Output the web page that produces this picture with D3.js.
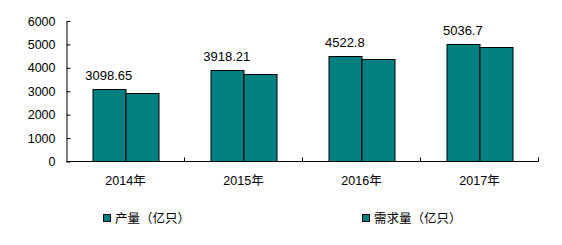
<!DOCTYPE html>
<html lang="zh">

<head>
  <meta charset="UTF-8">
  <script src="https://cdn.jsdelivr.net/npm/d3@7/dist/d3.min.js"></script>
  <title>产量与需求量</title>
  <style>
    body {
      margin: 0;
      background: #fff;
    }

    text {
      font-family: Arial, 'Liberation Sans', 'Noto Sans CJK SC', sans-serif;
      font-size: 12px;
      fill: #000;
    }
  </style>
</head>

<body>
  <svg id="chart" width="562" height="245"></svg>
  <script>
    const years = ["2014年", "2015年", "2016年", "2017年"];
    const production = [3098.65, 3918.21, 4522.8, 5036.7];
    const demand = [2920, 3720, 4360, 4875];
    const seriesNames = ["产量（亿只）", "需求量（亿只）"];
    const yTicks = [0, 1000, 2000, 3000, 4000, 5000, 6000];

    const svg = d3.select("#chart");
    const plotLeft = 66.5, plotRight = 538.5, plotTop = 21, plotBottom = 161.5;

    const x = d3.scaleBand().domain(years).range([plotLeft, plotRight]);
    const x1 = d3.scaleBand().domain([0, 1])
      .range([0, x.bandwidth()]).paddingOuter(0.77);
    const y = d3.scaleLinear().domain([0, 6000]).range([plotBottom, plotTop]);

    const rows = years.map((yr, i) => ({ year: yr, values: [production[i], demand[i]] }));

    // bars
    const groups = svg.selectAll("g.year").data(rows).enter().append("g")
      .attr("class", "year")
      .attr("transform", d => `translate(${x(d.year)},0)`);

    groups.selectAll("rect").data(d => d.values).enter().append("rect")
      .attr("x", (d, i) => Math.round(x1(i)) + 0.5)
      .attr("width", Math.round(x1.bandwidth()))
      .attr("y", d => Math.round(y(d)) + 0.5)
      .attr("height", d => plotBottom - Math.round(y(d)) - 0.5)
      .attr("fill", "#008080")
      .attr("stroke", "#000")
      .attr("stroke-width", 1);

    // value labels above the first bar
    groups.append("text")
      .attr("x", x1(0) + x1.bandwidth() / 2)
      .attr("y", d => y(d.values[0]) - 9)
      .attr("text-anchor", "middle")
      .style("font-size", "13px")
      .text(d => d.values[0]);

    // y axis
    svg.append("g")
      .attr("transform", `translate(${plotLeft},0)`)
      .call(d3.axisLeft(y).tickValues(yTicks).tickFormat(d3.format("d"))
        .tickSize(-4).tickSizeOuter(0).tickPadding(11))
      .call(g => g.selectAll("path, line").attr("stroke", "#000"))
      .call(g => g.selectAll("text").attr("font-family", null).attr("font-size", null)
        .style("font-size", "12.5px").attr("fill", "#000"));

    // x axis: line, ticks at category boundaries, labels in the middle
    svg.append("line")
      .attr("x1", plotLeft).attr("x2", plotRight)
      .attr("y1", plotBottom).attr("y2", plotBottom)
      .attr("stroke", "#000");

    svg.selectAll("line.xtick").data(years.slice(1).map(d => x(d)).concat([plotRight]))
      .enter().append("line").attr("class", "xtick")
      .attr("x1", d => Math.floor(d) + 0.5).attr("x2", d => Math.floor(d) + 0.5)
      .attr("y1", plotBottom).attr("y2", plotBottom - 4)
      .attr("stroke", "#000");

    svg.selectAll("text.xlab").data(years).enter().append("text")
      .attr("class", "xlab")
      .attr("x", d => x(d) + x.bandwidth() / 2)
      .attr("y", 185)
      .attr("text-anchor", "middle")
      .style("font-size", "12.5px")
      .text(d => d);

    // legend
    const legendX = d3.scalePoint().domain(seriesNames).range([103.5, 362.5]);
    const legend = svg.selectAll("g.legend").data(seriesNames).enter().append("g")
      .attr("class", "legend")
      .attr("transform", d => `translate(${legendX(d)},214.5)`);
    legend.append("rect")
      .attr("width", 7).attr("height", 7)
      .attr("fill", "#008080").attr("stroke", "#000");
    legend.append("text")
      .attr("x", 11.5).attr("y", 8.5)
      .style("font-size", "12.5px")
      .text(d => d);
  </script>
</body>

</html>
